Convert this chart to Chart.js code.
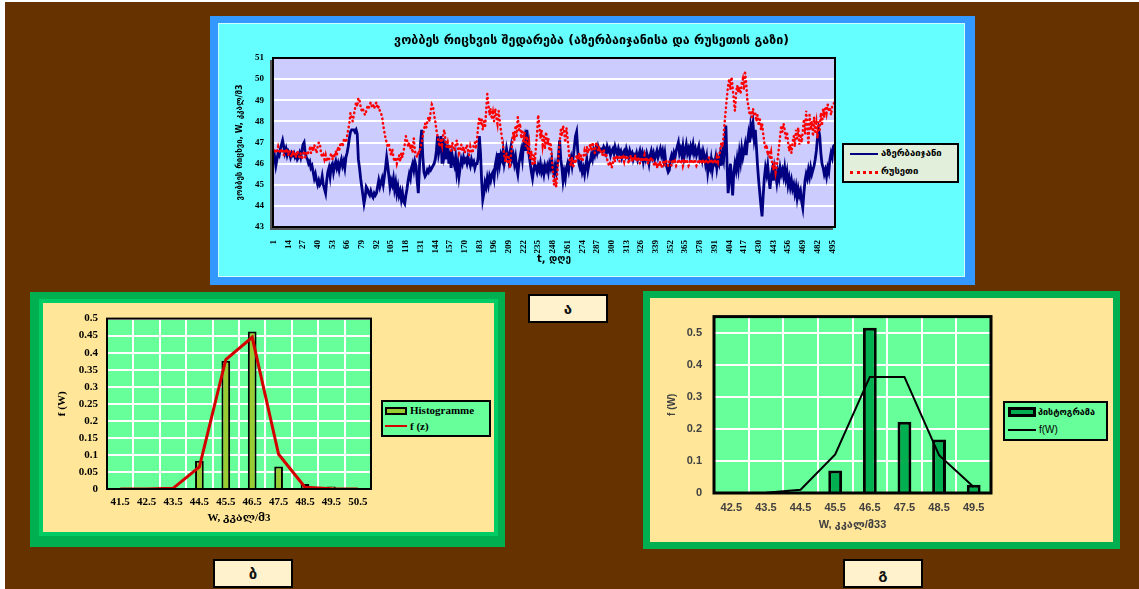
<!DOCTYPE html>
<html>
<head>
<meta charset="utf-8">
<script src="https://cdn.jsdelivr.net/npm/chart.js@4.4.1/dist/chart.umd.min.js"></script>
<style>
  html, body { margin: 0; padding: 0; background: #fff; }
  body { width: 1139px; height: 589px; position: relative; overflow: hidden; }
  .abs { position: absolute; }
  #bg { left: 5px; top: 2px; width: 1134px; height: 587px; background: #663300; }
  #topOuter { left: 210px; top: 16px; width: 765px; height: 269px; background: #3399ff; }
  #topInner { left: 218px; top: 23px; width: 745px; height: 252px; background: #66ffff; border: 1px solid #ccffff; }
  #blOuter { left: 30px; top: 292px; width: 475px; height: 255px; background: #00b050; }
  #blInner { left: 43px; top: 303px; width: 451px; height: 229px; background: #ffe699; box-shadow: 0 0 0 4px #00cc66; }
  #brOuter { left: 643px; top: 291px; width: 477px; height: 258px; background: #00b050; }
  #brInner { left: 650px; top: 298px; width: 463px; height: 244px; background: #ffe699; }
  canvas { position: absolute; }
  .legend { position: absolute; border: 2px solid #000; box-sizing: border-box; }
  .item { position: absolute; white-space: nowrap; }
  .tag { position: absolute; width: 80px; height: 29px; box-sizing: border-box; border: 2px solid #000;
         background: #fff2cc; font: bold 15px 'DejaVu Sans', sans-serif; color: #111;
         display: flex; align-items: center; justify-content: center; }
</style>
</head>
<body>
<div id="bg" class="abs"></div>
<div id="topOuter" class="abs"></div>
<div id="topInner" class="abs"></div>
<div id="blOuter" class="abs"></div>
<div id="blInner" class="abs"></div>
<div id="brOuter" class="abs"></div>
<div id="brInner" class="abs"></div>

<canvas id="wobbeChart" width="747" height="254" style="left:218px;top:23px"></canvas>
<canvas id="histLeft" width="451" height="229" style="left:43px;top:303px"></canvas>
<canvas id="histRight" width="463" height="244" style="left:650px;top:298px"></canvas>

<div id="legendTop" class="legend" style="left:842px;top:143px;width:117px;height:40px;background:#e2efda"></div>
<div id="legendLeft" class="legend" style="left:381px;top:400px;width:110px;height:37px;background:#66ff99"></div>
<div id="legendRight" class="legend" style="left:1003px;top:401px;width:105px;height:40px;background:#66ff99"></div>

<div class="tag" style="left:528px;top:294px">ა</div>
<div class="tag" style="left:213px;top:559px">ბ</div>
<div class="tag" style="left:843px;top:559px">გ</div>

<script>
// ---- top chart: Wobbe number, daily values ----
const topTitle = "ვობბეს რიცხვის შედარება (აზერბაიჯანისა და რუსეთის გაზი)";
const seriesNames = ["აზერბაიჯანი", "რუსეთი"];

const azerbaijan = [
  46.0, 46.3, 45.9, 46.2, 46.5, 46.4, 46.7, 46.9, 47.1, 46.8,
  46.5, 46.7, 46.4, 46.6, 46.5, 46.3, 46.5, 46.4, 46.5, 46.3,
  46.4, 46.2, 46.3, 46.5, 46.3, 46.6, 46.9, 47.0, 46.5, 46.3,
  46.2, 46.0, 46.1, 45.8, 45.9, 45.6, 45.3, 45.5, 45.2, 45.0,
  45.2, 45.0, 45.1, 45.4, 45.0, 44.8, 44.6, 45.2, 45.6, 45.8,
  45.4, 45.9, 46.0, 45.6, 45.9, 46.1, 45.8, 46.0, 45.7, 46.0,
  46.2, 45.9, 46.1, 45.8, 46.3, 46.5, 46.8, 47.2, 47.5, 47.6,
  47.6, 47.6, 47.5, 47.6, 47.4, 46.2, 45.8, 45.3, 44.9, 44.5,
  44.1, 44.4, 44.9, 44.8, 44.6, 44.5, 44.7, 44.5, 44.4, 44.6,
  44.5, 44.6, 44.9, 45.2, 44.9, 45.1, 45.3, 45.0, 45.4, 45.8,
  46.3, 45.9, 45.4, 44.9, 45.2, 45.0, 45.3, 44.8, 45.1, 44.6,
  44.9, 44.5, 44.7, 44.3, 44.6, 44.2, 44.1, 44.5, 44.8, 45.2,
  45.5, 45.3, 45.8, 46.0, 45.7, 46.1, 45.9, 45.2, 44.6, 45.8,
  47.0, 47.6, 46.3, 45.6, 45.4, 45.5, 45.7, 45.6, 45.8, 45.7,
  45.8, 45.9, 46.0, 46.2, 46.6, 47.3, 46.5, 46.8, 47.3, 46.0,
  47.2, 46.4, 46.7, 46.2, 46.9, 46.0, 46.6, 45.8, 46.4, 46.1,
  45.9, 46.3, 45.6, 46.0, 45.4, 45.8, 46.2, 46.0, 46.3, 46.1,
  46.2, 46.0, 46.3, 46.1, 45.9, 46.2, 46.0, 46.1, 45.8, 46.0,
  46.0, 46.3, 47.3, 46.5, 45.2, 44.3, 44.6, 45.1, 44.9, 45.3,
  45.0, 45.4, 45.2, 45.5, 45.6, 45.3, 45.9, 46.2, 45.8, 46.5,
  46.0, 46.4, 46.2, 46.6, 46.0, 46.3, 46.7, 46.4, 46.1, 46.5,
  46.8, 46.2, 46.4, 46.0, 46.3, 45.8, 45.5, 46.0, 46.3, 46.6,
  46.2, 46.9, 47.2, 46.6, 47.6, 47.0, 46.4, 46.0, 45.6, 45.3,
  45.7, 46.0, 45.8, 45.6, 45.9, 45.7, 46.0, 45.6, 45.8, 45.5,
  45.9, 45.7, 45.9, 45.6, 46.0, 45.8, 46.2, 45.7, 45.5, 45.9,
  45.6, 46.0, 46.4, 47.1, 46.2, 45.8, 45.2, 45.6, 45.3, 45.8,
  46.0, 45.7, 46.1, 46.3, 45.9, 46.3, 46.8, 47.3, 47.5, 46.6,
  46.0, 45.8, 46.0, 45.6, 45.8, 45.5, 45.9, 46.2, 45.7, 46.0,
  46.1, 46.4, 46.2, 46.6, 46.4, 46.7, 46.5, 46.8, 46.6, 46.7,
  46.7, 46.6, 46.8, 46.7, 46.5, 46.8, 46.6, 46.7, 46.4, 46.6,
  46.7, 46.5, 46.8, 46.6, 46.4, 46.7, 46.5, 46.6, 46.3, 46.5,
  46.6, 46.4, 46.7, 46.5, 46.3, 46.6, 46.4, 46.5, 46.2, 46.4,
  46.3, 46.5, 46.2, 46.4, 46.6, 46.3, 46.5, 46.1, 46.4, 46.2,
  46.5, 46.3, 46.0, 46.4, 46.6, 46.3, 46.5, 46.2, 46.4, 46.6,
  46.3, 46.5, 46.7, 46.4, 46.6, 46.2, 46.5, 46.0, 45.8, 45.6,
  45.7, 46.2, 46.4, 46.2, 46.5, 46.3, 46.6, 46.8, 47.0, 46.5,
  46.7, 46.4, 46.8, 46.3, 46.6, 46.9, 46.5, 46.7, 46.4, 46.8,
  46.6, 46.9, 46.5, 46.7, 46.4, 46.6, 46.8, 46.3, 46.5, 46.2,
  46.6, 46.4, 46.0, 46.3, 45.6, 46.0, 45.8, 46.2, 45.7, 46.1,
  46.0, 46.3, 45.8, 46.2, 46.0, 46.4, 45.9, 46.5, 46.2, 47.0,
  47.8, 46.0, 44.6, 45.3, 46.0, 45.2, 44.5, 45.6, 46.0, 45.7,
  46.2, 45.8, 46.5, 46.1, 46.7, 46.3, 46.6, 46.9, 46.4, 47.0,
  47.4, 47.0, 47.8, 47.5, 47.9, 47.2, 47.6, 46.8, 45.9, 45.2,
  44.6, 44.0, 43.5, 44.5, 45.3, 45.8, 45.5, 45.9, 45.3, 44.8,
  45.4, 45.7, 45.2, 45.8, 45.5, 45.1, 45.6, 45.3, 45.8, 45.5,
  45.7, 45.4, 45.8, 45.3, 45.6, 45.0, 45.3, 44.9, 45.2, 44.8,
  45.0, 44.6, 44.9, 44.4, 44.8, 44.5, 44.7, 44.2, 43.9, 44.6,
  45.2, 45.5, 45.3, 45.7, 45.4, 45.8, 45.5, 45.7, 45.9, 46.2,
  46.6, 47.2, 47.6, 47.3, 46.5, 46.0, 45.8, 45.5, 45.7, 45.4,
  45.8, 45.6, 46.2, 46.5, 46.3, 46.8, 46.9
];

const russia = [
  46.6, 46.7, 46.5, 46.6, 46.8, 46.6, 46.5, 46.7, 46.6, 46.4,
  46.6, 46.5, 46.7, 46.4, 46.6, 46.5, 46.3, 46.6, 46.4, 46.5,
  46.3, 46.6, 46.4, 46.3, 46.5, 46.2, 46.4, 46.6, 46.3, 46.5,
  46.4, 46.6, 46.7, 46.5, 46.8, 46.6, 46.9, 46.7, 46.5, 46.8,
  47.0, 46.9, 46.5, 46.3, 46.4, 46.2, 46.4, 46.1, 46.3, 46.2,
  46.3, 46.5, 46.2, 46.4, 46.3, 46.6, 46.4, 46.8, 46.6, 46.9,
  47.0, 46.8, 47.1, 47.2, 47.0, 47.3, 47.6, 47.9, 48.4, 48.2,
  48.0, 48.3, 48.6, 48.9, 48.7, 49.1, 49.0, 48.7, 48.5, 48.6,
  48.4, 48.3, 48.5, 48.7, 48.6, 48.8, 48.9, 48.7, 48.8, 48.6,
  48.8, 48.9, 48.6, 48.7, 48.5, 48.4, 48.2, 47.8, 47.5, 47.2,
  47.0, 46.8, 46.9, 46.6, 46.4, 46.7, 46.3, 46.1, 46.3, 46.0,
  46.2, 46.4, 46.1, 46.5, 46.3, 46.6, 46.9, 47.3, 47.1, 46.8,
  47.0, 46.7, 46.9, 46.5, 47.2, 46.6, 46.4, 46.3, 46.6, 46.5,
  46.8, 47.0, 47.3, 47.6, 47.9, 47.7, 48.0, 48.2, 48.0, 48.5,
  48.8, 48.7, 48.3, 48.0, 47.6, 47.3, 47.0, 46.8, 47.2, 46.9,
  47.4, 47.6, 47.1, 46.8, 47.0, 46.7, 46.9, 46.6, 47.0, 46.8,
  46.6, 46.9, 47.1, 46.8, 46.5, 46.7, 46.9, 46.6, 46.8, 46.5,
  46.7, 46.9, 46.6, 46.4, 46.8, 46.6, 46.5, 46.9, 47.0, 46.7,
  47.2, 47.8, 48.2, 47.9, 48.1, 47.6, 48.0, 47.7, 48.5, 49.3,
  48.8, 48.3, 48.6, 48.1, 48.4, 48.0, 48.6, 48.2, 47.9, 48.5,
  48.0, 47.6, 47.2, 46.8, 46.4, 46.1, 46.5, 46.0, 46.3, 45.8,
  46.4, 46.9, 47.5, 47.1, 47.8, 47.3, 48.2, 47.6, 47.9, 47.2,
  47.6, 47.0, 47.5, 46.8, 47.3, 46.5, 46.9, 46.2, 46.6, 45.9,
  46.4, 46.0, 46.8, 47.4, 48.3, 47.8, 47.2, 47.6, 46.9, 47.3,
  46.7, 47.5, 46.9, 47.2, 46.6, 47.0, 46.3, 45.6, 45.0, 45.3,
  44.9, 45.6, 46.4, 47.0, 47.6, 47.3, 47.8, 47.5, 47.0, 47.7,
  47.2, 46.6, 46.1, 45.9, 46.3, 45.8, 46.2, 46.0, 46.4, 46.2,
  46.5, 46.2, 46.4, 46.1, 46.3, 46.6, 46.4, 46.8, 46.5, 46.7,
  46.9, 46.6, 47.0, 46.8, 46.5, 46.9, 47.0, 46.6, 46.8, 46.5,
  46.6, 46.4, 46.7, 46.3, 46.5, 46.2, 46.0, 45.9, 46.1, 45.8,
  46.0, 46.3, 46.1, 46.4, 46.2, 46.3, 46.1, 46.4, 46.2, 46.3,
  46.1, 46.4, 46.2, 46.3, 46.0, 46.2, 46.4, 46.1, 46.3, 46.2,
  46.4, 46.1, 46.3, 46.2, 46.0, 46.3, 46.1, 46.2, 46.4, 46.1,
  46.3, 46.0, 46.2, 46.1, 46.3, 46.2, 46.0, 45.9, 46.1, 45.8,
  46.0, 45.9, 46.1, 45.8, 46.0, 46.1, 45.9, 46.2, 46.0, 45.9,
  46.1, 46.0, 45.9, 46.2, 46.0, 46.1, 45.9, 46.0, 46.2, 46.1,
  46.0, 46.2, 45.9, 46.1, 46.0, 46.2, 46.1, 45.9, 46.0, 46.2,
  46.1, 46.0, 46.2, 46.1, 45.9, 46.0, 46.2, 46.1, 46.0, 46.2,
  46.1, 46.0, 46.2, 46.1, 46.0, 46.3, 46.1, 46.2, 46.0, 46.1,
  46.2, 46.0, 46.3, 46.1, 46.4, 46.6, 47.0, 46.8, 47.3, 48.0,
  48.6, 49.2, 49.7, 50.0, 49.5, 50.1, 49.6, 49.0, 48.5, 49.3,
  49.7, 49.4, 49.6, 49.3, 49.8, 50.0, 49.5, 50.3, 49.8, 49.0,
  48.7, 48.3, 48.5, 48.2, 48.6, 48.3, 48.4, 48.0, 48.3, 47.8,
  48.1, 47.6, 47.9, 47.4, 47.0, 46.7, 46.9, 46.4, 46.6, 46.2,
  46.5, 46.0, 45.7, 46.1, 45.6, 45.9, 46.3, 46.8, 47.3, 47.8,
  47.5, 47.9, 47.6, 47.2, 47.5, 47.0, 46.6, 46.9, 46.5, 47.0,
  47.3, 46.8, 47.6, 47.2, 47.7, 46.9, 47.4, 47.0, 47.5, 48.1,
  47.4, 48.5, 47.8, 46.9, 48.3, 47.6, 48.0, 47.3, 48.2, 47.5,
  47.9, 47.2, 48.0, 47.6, 48.4, 47.8, 48.6, 48.2, 48.7, 48.4,
  48.8, 48.5, 48.6, 48.3, 48.7, 48.8, 48.9
];

const dayLabels = azerbaijan.map((_, i) => i + 1);
const dayTickStep = 13;

// ---- histogram ბ ----
const binsLeft = ["41.5", "42.5", "43.5", "44.5", "45.5", "46.5", "47.5", "48.5", "49.5", "50.5"];
const histLeft = [0.002, 0.002, 0.001, 0.083, 0.376, 0.462, 0.066, 0.015, 0.007, 0.002];
const fzLeft = [0, 0, 0.002, 0.065, 0.38, 0.445, 0.102, 0.005, 0.001, 0];
const leftNames = ["Histogramme", "f (z)"];

// ---- histogram გ ----
const binsRight = ["42.5", "43.5", "44.5", "45.5", "46.5", "47.5", "48.5", "49.5"];
const histRight = [0.002, 0.001, 0.004, 0.07, 0.515, 0.222, 0.167, 0.026];
const fwRight = [0, 0.001, 0.01, 0.12, 0.362, 0.362, 0.118, 0.019];
const rightNames = ["ჰისტოგრამა", "f(W)"];

const GE = "'DejaVu Sans', sans-serif";
const SERIF = "'Liberation Serif', 'DejaVu Serif', serif";
const SANS = "'Liberation Sans', 'DejaVu Sans', sans-serif";

const plotFrame = {
  id: "plotFrame",
  beforeDraw(chart, args, opts) {
    const { ctx, chartArea: a } = chart;
    ctx.save();
    ctx.fillStyle = opts.bg;
    ctx.fillRect(a.left, a.top, a.width, a.height);
    ctx.restore();
  },
  afterDatasetsDraw(chart, args, opts) {
    const { ctx, chartArea: a } = chart;
    ctx.save();
    if (opts.shadow) {
      ctx.strokeStyle = opts.shadow;
      ctx.lineWidth = 2;
      ctx.beginPath();
      ctx.moveTo(a.left - 2, a.top + 2);
      ctx.lineTo(a.left - 2, a.bottom + 2);
      ctx.lineTo(a.right - 2, a.bottom + 2);
      ctx.stroke();
    }
    ctx.strokeStyle = opts.color;
    ctx.lineWidth = opts.width;
    ctx.strokeRect(a.left, a.top, a.width, a.height);
    ctx.restore();
  }
};

new Chart(document.getElementById("wobbeChart"), {
  type: "line",
  data: {
    labels: dayLabels,
    datasets: [
      { label: seriesNames[0], data: azerbaijan, borderColor: "#000080", borderWidth: 2.8,
        pointRadius: 0, tension: 0, order: 1 },
      { label: seriesNames[1], data: russia, borderColor: "#ff0000", borderWidth: 2.5,
        borderDash: [0.5, 4], borderCapStyle: "round", pointRadius: 0, tension: 0, order: 0 }
    ]
  },
  options: {
    responsive: false,
    animation: false,
    layout: { padding: { left: 0, right: 0, top: 0, bottom: 12 } },
    plugins: {
      legend: { display: false },
      tooltip: { enabled: false },
      title: { display: true, text: topTitle, color: "#000",
               font: { family: GE, size: 12.5, weight: "bold" }, padding: { top: 10, bottom: 10 } },
      plotFrame: { bg: "#ccccff", color: "#000", width: 2, shadow: "#555" }
    },
    scales: {
      x: {
        offset: true,
        grid: { display: false },
        border: { display: false },
        ticks: { autoSkip: false, minRotation: 90, maxRotation: 90, padding: 5, color: "#000",
                 font: { family: SERIF, size: 9, weight: "bold" },
                 callback: (v, i) => (i % dayTickStep === 0 ? dayLabels[i] : "") },
        title: { display: true, text: "t, დღე", color: "#000", padding: 0,
                 font: { family: GE, size: 10, weight: "bold" } },
        afterFit: s => { s.height = 38; }
      },
      y: {
        min: 43, max: 51,
        grid: { color: "#ffffff", lineWidth: 2, drawTicks: false },
        border: { display: false },
        ticks: { stepSize: 1, padding: 9, color: "#000", font: { family: SERIF, size: 9, weight: "bold" } },
        title: { display: true, text: "ვობბეს რიცხვი, W, კკალ/მ3", color: "#000", padding: { top: 17, bottom: 0 },
                 font: { family: GE, size: 8, weight: "bold" } },
        afterFit: s => { s.width = 55; }
      },
      // empty right-hand strip that keeps room for the legend box
      yRoom: {
        position: "right",
        display: true,
        grid: { display: false },
        border: { display: false },
        ticks: { display: false },
        afterFit: s => { s.width = 130; }
      }
    }
  },
  plugins: [plotFrame]
});

new Chart(document.getElementById("histLeft"), {
  type: "bar",
  data: {
    labels: binsLeft,
    datasets: [
      { type: "bar", label: leftNames[0], data: histLeft, backgroundColor: "#99cc33", borderColor: "#000",
        borderWidth: 2, barPercentage: 0.33, categoryPercentage: 1, order: 1 },
      { type: "line", label: leftNames[1], data: fzLeft, borderColor: "#d40000", borderWidth: 3,
        pointRadius: 0, tension: 0, order: 0 }
    ]
  },
  options: {
    responsive: false,
    animation: false,
    layout: { padding: { left: 13, right: 123, top: 8, bottom: 7 } },
    plugins: {
      legend: { display: false },
      tooltip: { enabled: false },
      plotFrame: { bg: "#66ff99", color: "#000", width: 2 }
    },
    scales: {
      x: {
        grid: { color: "#ffffff", lineWidth: 2, drawTicks: false },
        border: { display: false },
        ticks: { padding: 7, color: "#000", font: { family: SERIF, size: 11, weight: "bold" } },
        title: { display: true, text: "W, კკალ/მ3", color: "#000", padding: 0,
                 font: { family: SERIF, size: 11, weight: "bold" } },
        afterFit: s => { s.height = 36; }
      },
      y: {
        min: 0, max: 0.5,
        grid: { color: "#ffffff", lineWidth: 2, drawTicks: false },
        border: { display: false },
        ticks: { stepSize: 0.05, padding: 9, color: "#000", font: { family: SERIF, size: 11, weight: "bold" },
                 callback: v => String(+v.toFixed(2)) },
        title: { display: true, text: "f (W)", color: "#000", padding: 0,
                 font: { family: SERIF, size: 11, weight: "bold" } },
        afterFit: s => { s.width = 51; }
      }
    }
  },
  plugins: [plotFrame]
});

new Chart(document.getElementById("histRight"), {
  type: "bar",
  data: {
    labels: binsRight,
    datasets: [
      { type: "bar", label: rightNames[0], data: histRight, backgroundColor: "#00b050", borderColor: "#000",
        borderWidth: 3, barPercentage: 0.4, categoryPercentage: 1, order: 1 },
      { type: "line", label: rightNames[1], data: fwRight, borderColor: "#000", borderWidth: 2,
        pointRadius: 0, tension: 0, order: 0 }
    ]
  },
  options: {
    responsive: false,
    animation: false,
    layout: { padding: { left: 16, right: 122, top: 9, bottom: 10.5 } },
    plugins: {
      legend: { display: false },
      tooltip: { enabled: false },
      plotFrame: { bg: "#66ff99", color: "#000", width: 3 }
    },
    scales: {
      x: {
        grid: { color: "#ffffff", lineWidth: 2, drawTicks: false },
        border: { display: false },
        ticks: { padding: 8, color: "#404040", font: { family: SANS, size: 11, weight: "bold" } },
        title: { display: true, text: "W, კკალ/მ33", color: "#404040", padding: 0,
                 font: { family: SANS, size: 11, weight: "bold" } },
        afterFit: s => { s.height = 38.5; }
      },
      y: {
        min: 0, max: 0.55,
        grid: { color: "#ffffff", lineWidth: 2, drawTicks: false },
        border: { display: false },
        afterBuildTicks: s => { s.ticks = s.ticks.filter(t => Math.abs(t.value * 10 - Math.round(t.value * 10)) < 1e-6); },
        ticks: { stepSize: 0.1, padding: 12, color: "#404040", font: { family: SANS, size: 11, weight: "bold" },
                 callback: v => String(+v.toFixed(1)) },
        title: { display: true, text: "f (W)", color: "#404040", padding: 0,
                 font: { family: SANS, size: 10, weight: "bold" } },
        afterFit: s => { s.width = 48; }
      }
    }
  },
  plugins: [plotFrame]
});

// ---- HTML legends ----
function legendItem(box, css, text) {
  const el = document.createElement("div");
  el.className = "item";
  el.style.cssText = css;
  if (text) el.textContent = text;
  box.appendChild(el);
}

const lt = document.getElementById("legendTop");
legendItem(lt, "left:6px;top:8px;width:28px;height:0;border-top:2.8px solid #000080");
legendItem(lt, `left:37px;top:1px;font:bold 9.5px ${GE};color:#000;line-height:14px`, seriesNames[0]);
legendItem(lt, "left:6px;top:26px;width:28px;height:0;border-top:3px dotted #ff0000");
legendItem(lt, `left:37px;top:19px;font:bold 9.5px ${GE};color:#000;line-height:14px`, seriesNames[1]);

const ll = document.getElementById("legendLeft");
legendItem(ll, "left:2px;top:5px;width:22px;height:8px;box-sizing:border-box;background:#99cc33;border:2px solid #000");
legendItem(ll, `left:27px;top:1px;font:bold 11px ${SERIF};color:#000;line-height:14px`, leftNames[0]);
legendItem(ll, "left:2px;top:23px;width:22px;height:0;border-top:2.5px solid #d40000");
legendItem(ll, `left:27px;top:17px;font:bold 11px ${SERIF};color:#000;line-height:14px`, leftNames[1]);

const lr = document.getElementById("legendRight");
legendItem(lr, "left:3px;top:4px;width:28px;height:10px;box-sizing:border-box;background:#00b050;border:3px solid #000");
legendItem(lr, `left:33px;top:2px;font:bold 9px ${GE};color:#000;line-height:14px`, rightNames[0]);
legendItem(lr, "left:3px;top:26px;width:28px;height:0;border-top:2px solid #000");
legendItem(lr, `left:34px;top:20px;font:10px ${SANS};color:#000;line-height:14px`, rightNames[1]);
</script>
</body>
</html>
